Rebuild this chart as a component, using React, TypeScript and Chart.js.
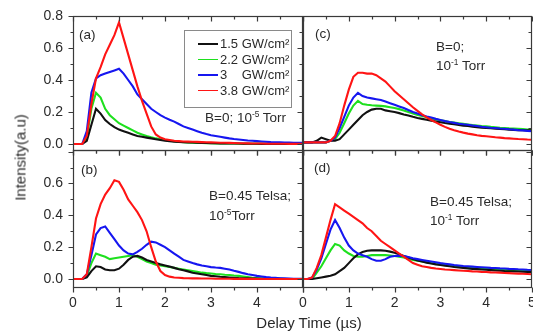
import React, { useEffect, useRef } from "react";
import { Chart, registerables } from "chart.js";

Chart.register(...registerables);

// ---------- data ----------
const timeUs = [
  0, 0.1, 0.2, 0.3, 0.4, 0.5, 0.6, 0.7, 0.8, 0.9,
  1.0, 1.1, 1.2, 1.3, 1.4, 1.5, 1.6, 1.7, 1.8, 1.9,
  2.0, 2.1, 2.2, 2.3, 2.4, 2.5, 2.6, 2.7, 2.8, 2.9,
  3.0, 3.1, 3.2, 3.3, 3.4, 3.5, 3.6, 3.7, 3.8, 3.9,
  4.0, 4.1, 4.2, 4.3, 4.4, 4.5, 4.6, 4.7, 4.8, 4.9,
  5.0,
];

const seriesLabels = ["1.5 GW/cm²", "2.2 GW/cm²", "3    GW/cm²", "3.8 GW/cm²"];

// (a) B=0; 1e-5 Torr
const aBlack = [
  0, 0, 0, 0.02, 0.12, 0.22, 0.19, 0.15, 0.125, 0.105,
  0.09, 0.08, 0.07, 0.06, 0.05, 0.045, 0.04, 0.035, 0.03, 0.025,
  0.02, 0.018, 0.015, 0.013, 0.011, 0.01, 0.009, 0.008, 0.007, 0.006,
  0.005, 0.005, 0.004, 0.004, 0.003, 0.003, 0.003, 0.002, 0.002, 0.002,
  0.002, 0.001, 0.001, 0.001, 0.001, 0.001, 0, 0, 0, 0,
  0,
];
const aGreen = [
  0, 0, 0, 0.04, 0.22, 0.32, 0.29, 0.22, 0.18, 0.155,
  0.13, 0.115, 0.1, 0.085, 0.07, 0.06, 0.05, 0.042, 0.035, 0.03,
  0.025, 0.02, 0.017, 0.014, 0.012, 0.01, 0.008, 0.007, 0.006, 0.005,
  0.005, 0.004, 0.004, 0.003, 0.003, 0.003, 0.002, 0.002, 0.002, 0.002,
  0.001, 0.001, 0.001, 0.001, 0.001, 0, 0, 0, 0, 0,
  0,
];
const aBlue = [
  0, 0, 0, 0.08, 0.32, 0.41, 0.43, 0.44, 0.45, 0.46,
  0.47, 0.44, 0.4, 0.36, 0.31, 0.28, 0.25, 0.22, 0.2, 0.18,
  0.165, 0.152, 0.14, 0.125, 0.11, 0.1, 0.09, 0.08, 0.07, 0.062,
  0.055, 0.05, 0.045, 0.04, 0.035, 0.031, 0.028, 0.025, 0.022, 0.02,
  0.018, 0.016, 0.014, 0.012, 0.011, 0.01, 0.009, 0.009, 0.008, 0.008,
  0.008,
];
const aRed = [
  0, 0, 0, 0.05, 0.25, 0.41, 0.48, 0.56, 0.62, 0.68,
  0.76, 0.66, 0.56, 0.46, 0.36, 0.27, 0.19, 0.11, 0.06, 0.04,
  0.03, 0.025, 0.02, 0.018, 0.016, 0.015, 0.014, 0.013, 0.012, 0.011,
  0.01, 0.009, 0.008, 0.008, 0.007, 0.006, 0.005, 0.005, 0.004, 0.003,
  0.003, 0.003, 0.002, 0.002, 0.002, 0.002, 0.002, 0.001, 0.001, 0.001,
  0.001,
];

// (b) B=0.45 Tesla; 1e-5 Torr
const bBlack = [
  0, 0, 0, 0.01, 0.05, 0.08, 0.075, 0.06, 0.055, 0.055,
  0.065, 0.09, 0.12, 0.14, 0.145, 0.135, 0.12, 0.11, 0.1, 0.092,
  0.085, 0.078, 0.07, 0.062, 0.055, 0.048, 0.04, 0.035, 0.03, 0.025,
  0.02, 0.017, 0.014, 0.012, 0.01, 0.008, 0.006, 0.005, 0.004, 0.003,
  0.003, 0.002, 0.002, 0.001, 0.001, 0.001, 0, 0, 0, 0,
  0,
];
const bGreen = [
  0, 0, 0, 0.02, 0.1, 0.16, 0.15, 0.14, 0.125, 0.13,
  0.135, 0.14, 0.145, 0.15, 0.14, 0.125, 0.11, 0.1, 0.09, 0.085,
  0.08, 0.075, 0.07, 0.065, 0.06, 0.055, 0.05, 0.045, 0.04, 0.037,
  0.035, 0.032, 0.03, 0.027, 0.025, 0.022, 0.02, 0.016, 0.012, 0.008,
  0.005, 0.004, 0.003, 0.002, 0.001, 0.001, 0, 0, 0, 0,
  0,
];
const bBlue = [
  0, 0, 0, 0.03, 0.15, 0.28, 0.32, 0.33, 0.29, 0.25,
  0.21, 0.18, 0.16, 0.155, 0.17, 0.19, 0.215, 0.235, 0.23, 0.215,
  0.2, 0.18, 0.16, 0.14, 0.12, 0.11, 0.1, 0.092, 0.085, 0.08,
  0.075, 0.072, 0.07, 0.065, 0.06, 0.052, 0.045, 0.037, 0.03, 0.025,
  0.02, 0.016, 0.012, 0.009, 0.007, 0.005, 0.004, 0.003, 0.002, 0.001,
  0.001,
];
const bRed = [
  0, 0, 0, 0.03, 0.2, 0.38, 0.47, 0.53, 0.57, 0.62,
  0.61, 0.56, 0.5, 0.46, 0.42, 0.37, 0.3, 0.2, 0.11, 0.05,
  0.025, 0.015, 0.01, 0.008, 0.006, 0.005, 0.004, 0.004, 0.003, 0.003,
  0.003, 0.002, 0.002, 0.002, 0.002, 0.001, 0.001, 0.001, 0.001, 0.001,
  0, 0, 0, 0, 0, 0, 0, 0, 0, 0,
  0,
];

// (c) B=0; 1e-1 Torr
const cBlack = [
  0.01, 0.01, 0.01, 0.02, 0.04, 0.03, 0.02, 0.02, 0.03, 0.06,
  0.09, 0.12, 0.15, 0.18, 0.2, 0.215, 0.22, 0.22, 0.21, 0.205,
  0.2, 0.193, 0.185, 0.178, 0.17, 0.163, 0.157, 0.151, 0.146, 0.141,
  0.136, 0.131, 0.127, 0.123, 0.119, 0.115, 0.112, 0.108, 0.105, 0.102,
  0.1, 0.098, 0.096, 0.094, 0.092, 0.09, 0.088, 0.087, 0.086, 0.085,
  0.085,
];
const cGreen = [
  0.01, 0.01, 0.01, 0.01, 0.01, 0.01, 0.02, 0.03, 0.07, 0.13,
  0.19, 0.24, 0.27, 0.25, 0.245, 0.242, 0.24, 0.238, 0.235, 0.23,
  0.225, 0.218, 0.21, 0.2, 0.19, 0.182, 0.175, 0.168, 0.16, 0.154,
  0.148, 0.143, 0.138, 0.134, 0.13, 0.126, 0.122, 0.118, 0.115, 0.112,
  0.11, 0.107, 0.105, 0.102, 0.1, 0.098, 0.097, 0.095, 0.093, 0.091,
  0.09,
];
const cBlue = [
  0.01, 0.01, 0.01, 0.01, 0.01, 0.01, 0.02, 0.04, 0.1, 0.17,
  0.24, 0.29, 0.32, 0.3, 0.29, 0.285, 0.28, 0.275, 0.265, 0.255,
  0.245, 0.235, 0.225, 0.212, 0.2, 0.19, 0.18, 0.172, 0.165, 0.157,
  0.15, 0.143, 0.137, 0.132, 0.127, 0.123, 0.12, 0.116, 0.112, 0.108,
  0.105, 0.102, 0.1, 0.097, 0.095, 0.092, 0.09, 0.087, 0.085, 0.082,
  0.08,
];
const cRed = [
  0.01, 0.01, 0.01, 0.01, 0.01, 0.01, 0.02, 0.05, 0.13, 0.24,
  0.34, 0.42, 0.445, 0.445, 0.44, 0.44, 0.43, 0.41, 0.39, 0.36,
  0.33, 0.305, 0.28, 0.255, 0.23, 0.207, 0.185, 0.167, 0.15, 0.135,
  0.12, 0.107, 0.095, 0.086, 0.078, 0.071, 0.065, 0.06, 0.055, 0.051,
  0.048, 0.045, 0.042, 0.04, 0.037, 0.035, 0.033, 0.031, 0.03, 0.028,
  0.027,
];

// (d) B=0.45 Tesla; 1e-1 Torr
const dBlack = [
  0, 0, 0, 0.005, 0.01, 0.015, 0.02, 0.03, 0.05, 0.07,
  0.1, 0.13, 0.155, 0.17, 0.178, 0.18, 0.18, 0.18, 0.178, 0.172,
  0.165, 0.155, 0.145, 0.135, 0.125, 0.117, 0.11, 0.103, 0.097, 0.092,
  0.088, 0.084, 0.08, 0.076, 0.073, 0.07, 0.067, 0.064, 0.062, 0.06,
  0.058, 0.056, 0.054, 0.052, 0.05, 0.049, 0.048, 0.047, 0.046, 0.045,
  0.045,
];
const dGreen = [
  0, 0, 0, 0.04, 0.08, 0.13, 0.18, 0.22, 0.21, 0.18,
  0.16, 0.145, 0.14, 0.14, 0.145, 0.15, 0.15, 0.15, 0.15, 0.148,
  0.145, 0.14, 0.135, 0.128, 0.12, 0.115, 0.11, 0.105, 0.1, 0.096,
  0.092, 0.088, 0.085, 0.082, 0.08, 0.077, 0.075, 0.072, 0.07, 0.068,
  0.066, 0.064, 0.062, 0.06, 0.058, 0.057, 0.055, 0.054, 0.052, 0.051,
  0.05,
];
const dBlue = [
  0, 0, 0.01, 0.06, 0.13, 0.22, 0.31, 0.37, 0.32, 0.26,
  0.21, 0.18, 0.16, 0.15, 0.14, 0.125, 0.115, 0.115, 0.125, 0.14,
  0.145, 0.147, 0.145, 0.138, 0.13, 0.125, 0.12, 0.115, 0.11, 0.105,
  0.1, 0.096, 0.092, 0.088, 0.085, 0.082, 0.08, 0.078, 0.076, 0.074,
  0.072, 0.07, 0.069, 0.067, 0.066, 0.064, 0.063, 0.061, 0.06, 0.058,
  0.057,
];
const dRed = [
  0, 0, 0.01, 0.07, 0.15, 0.26, 0.37, 0.47, 0.45, 0.43,
  0.41, 0.39, 0.37, 0.35, 0.32, 0.3, 0.27, 0.24, 0.22, 0.2,
  0.18, 0.16, 0.14, 0.12, 0.1, 0.09, 0.08, 0.075, 0.07, 0.066,
  0.063, 0.06, 0.058, 0.056, 0.054, 0.052, 0.05, 0.048, 0.047, 0.045,
  0.044, 0.042, 0.041, 0.04, 0.038, 0.037, 0.035, 0.034, 0.033, 0.032,
  0.03,
];

// tick values
const xMajorTicks = [0, 1, 2, 3, 4, 5];
const xMinorTicks = [0.5, 1.5, 2.5, 3.5, 4.5];
const yMajorTicks = [0, 0.2, 0.4, 0.6, 0.8];
const yMinorTicks = [0.1, 0.3, 0.5, 0.7];
const yLabelsTop = [0, 0.2, 0.4, 0.6, 0.8];
const yLabelsBottom = [0, 0.2, 0.4, 0.6];
const xLabelsLeft = [0, 1, 2, 3, 4];
const xLabelsRight = [0, 1, 2, 3, 4, 5];

// ---------- styles / layout ----------
const FONT = '"Liberation Sans", Arial, Helvetica, sans-serif';
const TEXT = "#2a2a2a";
const seriesColors = ["#111111", "#1ee01e", "#1616f0", "#ff1414"];
const seriesOrder = [2, 3, 1, 0];

type Area = { left: number; top: number; right: number; bottom: number };
type Panel = {
  key: string;
  series: number[][];
  yMin: number;
  yMax: number;
  xLabels: number[] | null;
  yLabels: number[] | null;
  area: Area;
};

const panels: Panel[] = [
  { key: "a", series: [aBlack, aGreen, aBlue, aRed], yMin: -0.0375, yMax: 0.8, xLabels: null, yLabels: yLabelsTop, area: { left: 73, top: 16, right: 303, bottom: 150 } },
  { key: "b", series: [bBlack, bGreen, bBlue, bRed], yMin: -0.05, yMax: 0.81, xLabels: xLabelsLeft, yLabels: yLabelsBottom, area: { left: 73, top: 150, right: 303, bottom: 287 } },
  { key: "c", series: [cBlack, cGreen, cBlue, cRed], yMin: -0.0375, yMax: 0.8, xLabels: null, yLabels: null, area: { left: 303, top: 16, right: 532, bottom: 150 } },
  { key: "d", series: [dBlack, dGreen, dBlue, dRed], yMin: -0.05, yMax: 0.81, xLabels: xLabelsRight, yLabels: null, area: { left: 303, top: 150, right: 532, bottom: 287 } },
];

const W = 533;
const H = 332;
const Y_AXIS_W = 40;
const X_AXIS_H = 20;

const frameTicks = {
  id: "frameTicks",
  afterDatasetsDraw(chart: any) {
    const { ctx, chartArea, scales } = chart;
    const { left, top, right, bottom } = chartArea;
    const x = scales.x;
    const y = scales.y;
    const L = Math.round(left) + 0.5;
    const R = Math.round(right) - 0.5;
    const T = Math.round(top) + 0.5;
    const B = Math.round(bottom) + 0.5;
    ctx.save();
    ctx.strokeStyle = "#3a3a3a";
    ctx.lineWidth = 1.2;
    ctx.strokeRect(L, T, R - L, B - T);
    ctx.beginPath();
    const xt = (v: number, len: number) => {
      const p = Math.round(x.getPixelForValue(v)) + 0.5;
      ctx.moveTo(p, B);
      ctx.lineTo(p, B + len);
      ctx.moveTo(p, T);
      ctx.lineTo(p, T + len);
    };
    const yt = (v: number, len: number) => {
      if (v < y.min || v > y.max) return;
      const p = Math.round(y.getPixelForValue(v)) + 0.5;
      ctx.moveTo(L - len, p);
      ctx.lineTo(L, p);
      ctx.moveTo(R - len, p);
      ctx.lineTo(R, p);
    };
    xMajorTicks.forEach((v) => xt(v, 5));
    xMinorTicks.forEach((v) => xt(v, 3));
    yMajorTicks.forEach((v) => yt(v, 5));
    yMinorTicks.forEach((v) => yt(v, 3));
    ctx.stroke();
    ctx.restore();
  },
};

function initialPadding(p: Panel) {
  return {
    left: p.area.left - (p.yLabels ? Y_AXIS_W : 0),
    top: p.area.top,
    right: W - p.area.right,
    bottom: H - p.area.bottom - (p.xLabels ? X_AXIS_H : 0),
  };
}

function buildConfig(p: Panel): any {
  return {
    type: "line",
    data: {
      datasets: p.series.map((s, k) => ({
        label: seriesLabels[k],
        data: timeUs.map((t, j) => ({ x: t, y: s[j] })),
        borderColor: seriesColors[k],
        backgroundColor: seriesColors[k],
        borderWidth: 2.1,
        pointRadius: 0,
        tension: 0,
        fill: false,
        order: seriesOrder[k],
      })),
    },
    options: {
      responsive: false,
      animation: false,
      devicePixelRatio: 1,
      events: [],
      layout: { padding: initialPadding(p), autoPadding: false },
      plugins: { legend: { display: false }, tooltip: { enabled: false } },
      scales: {
        x: {
          type: "linear",
          min: 0,
          max: 5,
          display: !!p.xLabels,
          grid: { display: false, drawTicks: false },
          border: { display: false },
          ticks: {
            font: { family: FONT, size: 14 },
            color: TEXT,
            padding: 8,
            maxRotation: 0,
            autoSkip: false,
            callback: (v: any) => String(v),
          },
          afterBuildTicks: (s: any) => {
            if (p.xLabels) s.ticks = p.xLabels.map((v) => ({ value: v }));
          },
          afterFit: (s: any) => {
            if (p.xLabels) s.height = X_AXIS_H;
            s.paddingLeft = 0;
            s.paddingRight = 0;
          },
        },
        y: {
          type: "linear",
          min: p.yMin,
          max: p.yMax,
          display: !!p.yLabels,
          grid: { display: false, drawTicks: false },
          border: { display: false },
          ticks: {
            font: { family: FONT, size: 14 },
            color: TEXT,
            padding: 10,
            autoSkip: false,
            callback: (v: any) => Number(v).toFixed(1),
          },
          afterBuildTicks: (s: any) => {
            if (p.yLabels) s.ticks = p.yLabels.map((v) => ({ value: v }));
          },
          afterFit: (s: any) => {
            if (p.yLabels) s.width = Y_AXIS_W;
            s.paddingTop = 0;
            s.paddingBottom = 0;
          },
        },
      },
    },
    plugins: [frameTicks],
  };
}

const supStyle: React.CSSProperties = { fontSize: "0.62em", verticalAlign: "0.6em", lineHeight: 0 };

function Label({ left, cy, size = 13.5, children }: { left: number; cy: number; size?: number; children: React.ReactNode }) {
  return (
    <div
      style={{
        position: "absolute",
        left,
        top: cy - 9,
        height: 18,
        lineHeight: "18px",
        fontSize: size,
        whiteSpace: "pre",
        color: TEXT,
      }}
    >
      {children}
    </div>
  );
}

export default function App() {
  const refs = useRef<(HTMLCanvasElement | null)[]>([]);

  useEffect(() => {
    const charts = panels.map((p, i) => {
      const cfg = buildConfig(p);
      const chart = new Chart(refs.current[i] as HTMLCanvasElement, cfg);
      // nudge the layout padding until the plot area sits exactly on the panel frame
      for (let it = 0; it < 4; it++) {
        const ca = chart.chartArea;
        const dl = p.area.left - ca.left;
        const dt = p.area.top - ca.top;
        const dr = ca.right - p.area.right;
        const db = ca.bottom - p.area.bottom;
        if (Math.abs(dl) < 0.5 && Math.abs(dt) < 0.5 && Math.abs(dr) < 0.5 && Math.abs(db) < 0.5) break;
        const pad = cfg.options.layout.padding;
        const next = {
          left: pad.left + dl,
          top: pad.top + dt,
          right: pad.right + dr,
          bottom: pad.bottom + db,
        };
        cfg.options.layout.padding = next;
        (chart.options as any).layout.padding = next;
        chart.update();
      }
      return chart;
    });
    return () => {
      charts.forEach((c) => c.destroy());
    };
  }, []);

  const legendRows = [44, 59.5, 75, 90.5];

  return (
    <div
      style={{
        position: "fixed",
        left: 0,
        top: 0,
        width: W,
        height: H,
        background: "#fff",
        overflow: "hidden",
        fontFamily: FONT,
      }}
    >
      {panels.map((p, i) => (
        <canvas
          key={p.key}
          ref={(el) => {
            refs.current[i] = el;
          }}
          width={W}
          height={H}
          style={{ position: "absolute", left: 0, top: 0, width: W, height: H }}
        />
      ))}

      {/* legend in panel (a) */}
      <div
        style={{
          position: "absolute",
          left: 184,
          top: 30,
          width: 106,
          height: 76,
          border: "1px solid #8a8a8a",
          background: "#fff",
        }}
      />
      {seriesLabels.map((lab, k) => (
        <React.Fragment key={lab}>
          <div
            style={{
              position: "absolute",
              left: 198,
              top: legendRows[k] - 1,
              width: 20,
              height: 1.5,
              background: seriesColors[k],
            }}
          />
          <Label left={220} cy={legendRows[k]} size={13}>
            {lab}
          </Label>
        </React.Fragment>
      ))}

      {/* panel letters */}
      <Label left={79} cy={35}>(a)</Label>
      <Label left={81} cy={170}>(b)</Label>
      <Label left={315} cy={34}>(c)</Label>
      <Label left={314} cy={168}>(d)</Label>

      {/* annotations */}
      <Label left={205} cy={118}>
        B=0; 10<span style={supStyle}>-5</span> Torr
      </Label>
      <Label left={209} cy={196}>B=0.45 Telsa;</Label>
      <Label left={209} cy={216}>
        10<span style={supStyle}>-5</span>Torr
      </Label>
      <Label left={436} cy={47}>B=0;</Label>
      <Label left={436} cy={66}>
        10<span style={supStyle}>-1</span> Torr
      </Label>
      <Label left={430} cy={202}>B=0.45 Telsa;</Label>
      <Label left={430} cy={221}>
        10<span style={supStyle}>-1</span> Torr
      </Label>

      {/* axis titles */}
      <div
        style={{
          position: "absolute",
          left: 209,
          width: 200,
          top: 313,
          height: 19,
          lineHeight: "19px",
          textAlign: "center",
          fontSize: 15,
          color: TEXT,
        }}
      >
        Delay Time (µs)
      </div>
      <div
        style={{
          position: "absolute",
          left: 19.5 - 80,
          top: 157 - 9.5,
          width: 160,
          height: 19,
          lineHeight: "19px",
          textAlign: "center",
          fontSize: 15,
          color: TEXT,
          transform: "rotate(-90deg)",
        }}
      >
        Intensity(a.u)
      </div>
    </div>
  );
}
